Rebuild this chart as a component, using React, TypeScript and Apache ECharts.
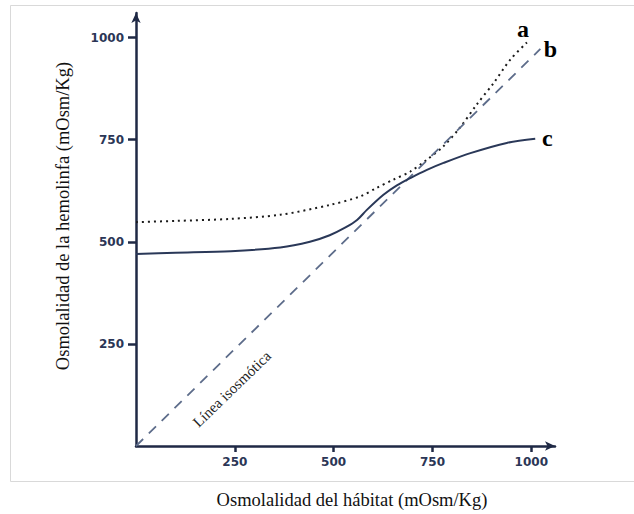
import React, { useEffect, useRef } from "react";
import * as echarts from "echarts";

const xTicks = [250, 500, 750, 1000];
const yTicks = [250, 500, 750, 1000];

// Curve a (dotted)
const aX = [0, 100, 240, 365, 490, 567, 609, 651, 694, 736, 778, 820, 862, 905, 947, 989];
const aY = [548, 551, 556, 566, 590, 611, 632, 652, 672, 701, 734, 780, 836, 889, 946, 988];

// Curve b (dashed, isosmotic line)
const bX = [0, 1023];
const bY = [0, 972];

// Curve c (solid)
const cX = [0, 100, 240, 365, 440, 490, 530, 560, 584, 626, 660, 694, 736, 778, 846, 938, 1010];
const cY = [470, 473, 477, 486, 500, 516, 535, 554, 578, 615, 638, 656, 676, 693, 717, 742, 752];

const seriesNames = ["a", "b", "c"];

const xTitle = "Osmolalidad del hábitat (mOsm/Kg)";
const yTitle = "Osmolalidad de la hemolinfa (mOsm/Kg)";
const isoLabel = "Línea isosmótica";

const zip = (xs: number[], ys: number[]) => xs.map((x, i) => [x, ys[i]]);

export default function App() {
  const ref = useRef<HTMLDivElement>(null);
  useEffect(() => {
    document.body.style.margin = "0";
    if (!ref.current) return;
    const chart = echarts.init(ref.current, undefined, { renderer: "svg" });
    const axisColor = "#1f2945";
    const labelStyle = {
      fontFamily: "DejaVu Sans",
      fontWeight: "bold" as const,
      fontSize: 12,
      color: "#2b3656",
      formatter: (v: number) => String(v),
    };
    const letterStyle = {
      show: true,
      fontFamily: "Liberation Serif",
      fontWeight: "bold" as const,
      fontSize: 24,
      color: "#000",
      align: "center" as const,
      verticalAlign: "middle" as const,
      distance: 5,
    };
    chart.setOption({
      animation: false,
      backgroundColor: "#fff",
      grid: { left: 136, top: 13, right: 79, bottom: 68, containLabel: false },
      xAxis: {
        type: "value",
        min: 0,
        max: 1060,
        splitLine: { show: false },
        axisLine: {
          show: true,
          lineStyle: { color: axisColor, width: 2.5 },
          symbol: ["none", "arrow"],
          symbolSize: [7, 10],
          symbolOffset: [0, 0],
        },
        axisTick: {
          show: true,
          length: 6,
          lineStyle: { color: axisColor, width: 2.5 },
          customValues: xTicks,
        },
        axisLabel: { ...labelStyle, margin: 10, customValues: xTicks },
      },
      yAxis: {
        type: "value",
        min: 0,
        max: 1060,
        splitLine: { show: false },
        axisLine: {
          show: true,
          lineStyle: { color: axisColor, width: 2.5 },
          symbol: ["none", "arrow"],
          symbolSize: [7, 10],
        },
        axisTick: {
          show: true,
          length: 8,
          lineStyle: { color: axisColor, width: 2.5 },
          customValues: yTicks,
        },
        axisLabel: { ...labelStyle, margin: 12, customValues: yTicks },
      },
      graphic: [
        {
          type: "rect",
          shape: { x: 10.5, y: 5.5, width: 640, height: 476 },
          style: { fill: "none", stroke: "#d9d9d9", lineWidth: 1 },
          silent: true,
          z: -10,
        },
        {
          type: "text",
          x: 352,
          y: 500,
          style: {
            text: xTitle,
            fontFamily: "Liberation Serif",
            fontSize: 18.5,
            fill: "#111",
            align: "center",
            verticalAlign: "middle",
          },
        },
        {
          type: "text",
          x: 63,
          y: 216,
          rotation: Math.PI / 2,
          style: {
            text: yTitle,
            fontFamily: "Liberation Serif",
            fontSize: 18.5,
            fill: "#111",
            align: "center",
            verticalAlign: "middle",
          },
        },
        {
          type: "text",
          x: 232,
          y: 389,
          rotation: (44 * Math.PI) / 180,
          style: {
            text: isoLabel,
            fontFamily: "Liberation Serif",
            fontSize: 15,
            fill: "#222",
            align: "center",
            verticalAlign: "middle",
          },
        },
      ],
      series: [
        {
          name: seriesNames[0],
          type: "line",
          data: zip(aX, aY),
          smooth: 0.3,
          showSymbol: false,
          lineStyle: { color: "#1a1a1a", width: 2, type: [2, 4] },
          endLabel: { ...letterStyle, formatter: seriesNames[0], offset: [-9, -13] },
        },
        {
          name: seriesNames[1],
          type: "line",
          data: zip(bX, bY),
          showSymbol: false,
          lineStyle: { color: "#5d6c8a", width: 1.8, type: [10, 8] },
          endLabel: { ...letterStyle, formatter: seriesNames[1], offset: [5, 0] },
        },
        {
          name: seriesNames[2],
          type: "line",
          data: zip(cX, cY),
          smooth: 0.3,
          showSymbol: false,
          lineStyle: { color: "#2a3858", width: 2 },
          endLabel: { ...letterStyle, formatter: seriesNames[2], offset: [7, -1] },
        },
      ],
    });
    return () => chart.dispose();
  }, []);
  return <div ref={ref} style={{ width: 634, height: 514 }} />;
}
